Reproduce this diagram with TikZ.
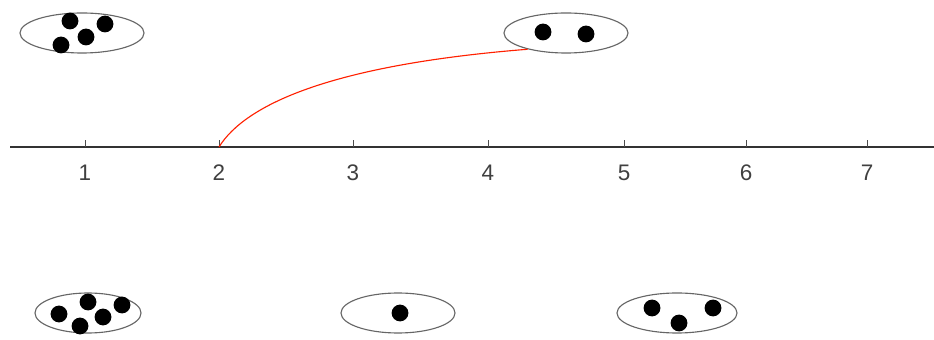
\documentclass[tikz,border=0pt]{standalone}
\usepackage{fontspec}
\setmainfont{Liberation Sans}
\usetikzlibrary{shapes.geometric}

\begin{document}
\begin{tikzpicture}[
        x=0.025cm, y=-0.025cm,
        cluster/.style={draw=gray!80!black, ellipse, thick, inner sep=0pt, fill=white},
        dot/.style={circle, fill=black, inner sep=0pt, minimum size=0.42cm},
        axisline/.style={thick, black!80},
        ticklabel/.style={font=\fontsize{16}{18}\selectfont, text=black!75},
        link/.style={red!75!orange, thick}
    ]
    \useasboundingbox (0,0) rectangle (934,340);

    % --- Number line ---
    \coordinate (axL) at (10,147);
    \coordinate (axR) at (934,147);
    \draw[axisline] (axL) -- (axR);
    \foreach \n/\xx in {1/85, 2/219, 3/353, 4/488, 5/624, 6/746, 7/867} {
        \coordinate (t\n) at (\xx,147);
        \draw[black!70] (t\n) -- ++(0,-7);
        \node[ticklabel] (lab\n) at (\xx,173) {\n};
    }

    % --- Upper clusters ---
    \node[cluster, minimum width=3.1cm, minimum height=1cm] (topA) at (82,33) {};
    \node[dot] (a1) at (70,21) {};
    \node[dot] (a2) at (105,24) {};
    \node[dot] (a3) at (86,37) {};
    \node[dot] (a4) at (61,45) {};

    \node[cluster, minimum width=3.1cm, minimum height=1cm] (topB) at (566,33) {};
    \node[dot] (b1) at (543,32) {};
    \node[dot] (b2) at (586,34) {};

    % --- Lower clusters ---
    \node[cluster, minimum width=2.65cm, minimum height=1cm] (botA) at (88,313) {};
    \node[dot] (c1) at (88,302) {};
    \node[dot] (c2) at (122,305) {};
    \node[dot] (c3) at (103,317) {};
    \node[dot] (c4) at (59,314) {};
    \node[dot] (c5) at (80,326) {};

    \node[cluster, minimum width=2.85cm, minimum height=1cm] (botB) at (398,313) {};
    \node[dot] (d1) at (400,313) {};

    \node[cluster, minimum width=3.0cm, minimum height=1cm] (botC) at (677,313) {};
    \node[dot] (e1) at (652,308) {};
    \node[dot] (e2) at (713,308) {};
    \node[dot] (e3) at (679,323) {};

    % --- Link from axis to cluster ---
    \draw[link] (t2) .. controls (245,105) and (330,65) .. (topB.203);

    \end{tikzpicture}
\end{document}
